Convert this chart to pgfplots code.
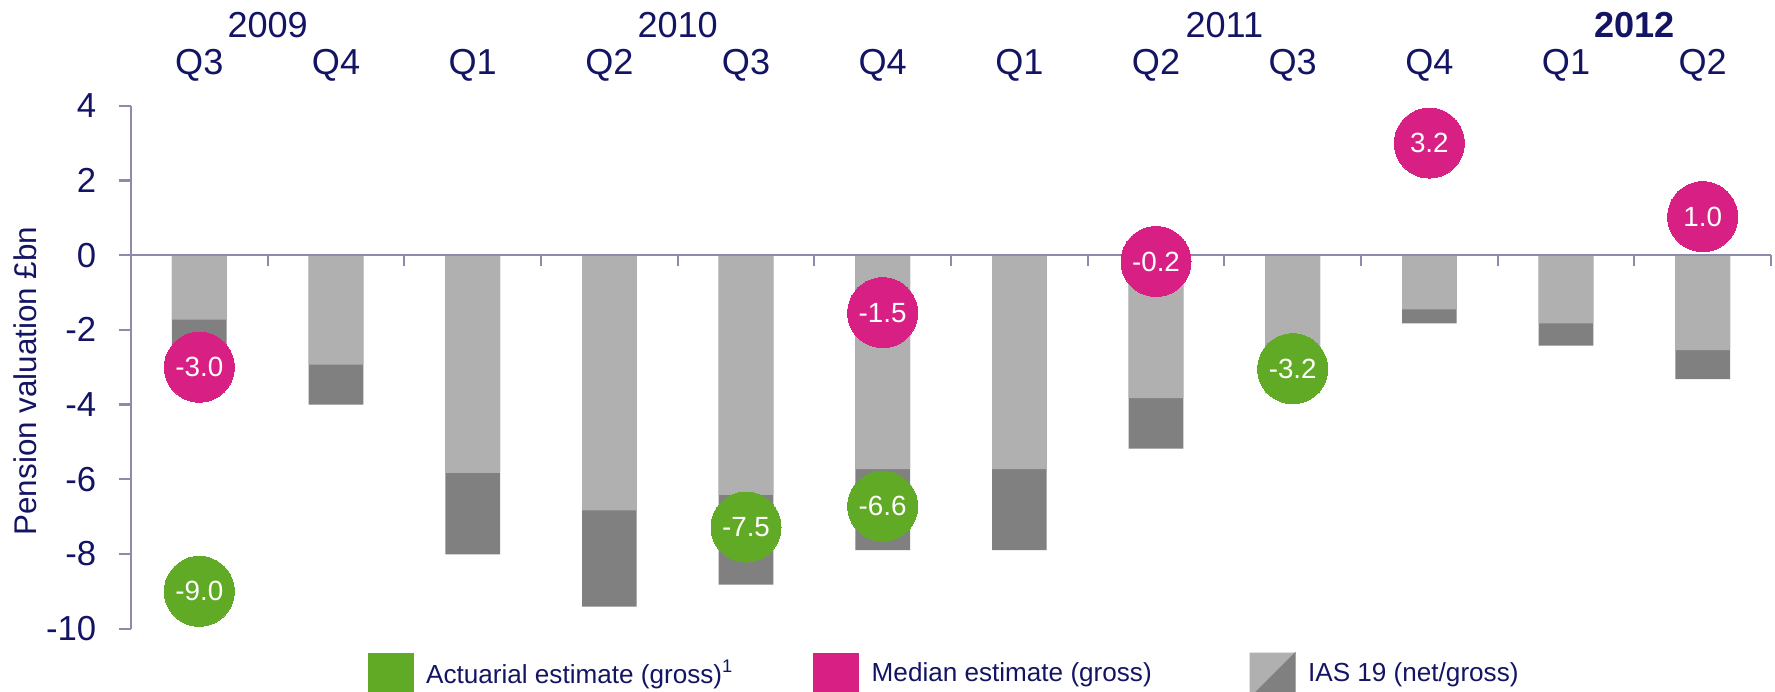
\documentclass[border=0pt]{standalone}
\usepackage{pgfplots}
\pgfplotsset{compat=1.18}
\usepackage{fontspec}
\setmainfont{Liberation Sans}
\definecolor{navy}{RGB}{20,20,100}
\definecolor{axiscol}{RGB}{140,140,170}
\definecolor{lgray}{RGB}{176,176,176}
\definecolor{dgray}{RGB}{128,128,128}
\definecolor{cgreen}{RGB}{96,170,37}
\definecolor{cmag}{RGB}{216,32,132}

\pgfplotstableread{
x light total
0 -1.73 -2.50
1 -2.93 -4.00
2 -5.83 -8.01
3 -6.83 -9.41
4 -6.42 -8.82
5 -5.73 -7.90
6 -5.73 -7.90
7 -3.83 -5.18
8 -2.60 -3.70
9 -1.45 -1.83
10 -1.83 -2.42
11 -2.54 -3.32
}\ias

\pgfplotstableread{
x y label
0 -9.00 -9.0
4 -7.28 -7.5
5 -6.72 -6.6
8 -3.04 -3.2
}\actuarial

\pgfplotstableread{
x y label
0 -3.00 -3.0
5 -1.54 -1.5
7 -0.17 -0.2
9 3.00 3.2
11 1.03 1.0
}\median

\begin{document}
\begin{tikzpicture}
\begin{axis}[
  scale only axis,
  width=590.4pt, height=188.28pt,
  xmin=-0.5, xmax=11.5, ymin=-10, ymax=4,
  clip=false,
  axis x line*=top,
  axis y line*=left,
  x axis line style={draw=none},
  y axis line style={axiscol, line width=0.8pt},
  xtick={0,...,11},
  xticklabels={Q3,Q4,Q1,Q2,Q3,Q4,Q1,Q2,Q3,Q4,Q1,Q2},
  xtick style={draw=none},
  xticklabel style={font=\fontsize{13}{15}\selectfont, text=navy, yshift=1pt},
  extra x ticks={0.5,3.5,7.5,10.5},
  extra x tick labels={2009,2010,2011,\textbf{2012}},
  extra x tick style={xticklabel style={yshift=15.6pt}, xtick style={draw=none}},
  ytick={-10,-8,...,4},
  yticklabels={-10,-8,-6,-4,-2,0,2,4},
  ytick style={axiscol, line width=0.8pt},
  tick align=outside,
  major tick length=4.3pt,
  yticklabel style={font=\fontsize{12.5}{14}\selectfont, text=navy, anchor=east, inner sep=0pt, xshift=-8pt},
  ylabel={Pension valuation £bn},
  every axis y label/.style={at={([xshift=-38.2pt]axis description cs:0,0.4736)}, rotate=90, anchor=center, font=\fontsize{11.3}{13}\selectfont, text=navy},
  legend columns=3,
  legend cell align=left,
  legend style={at={(rel axis cs:0.1439,0)}, anchor=north west, yshift=-8.4pt, draw=none, fill=none, inner sep=0pt, font=\fontsize{9.4}{11}\selectfont, text=navy, nodes={inner sep=0pt}, /tikz/every odd column/.append style={column sep=4.5pt}},
]
\coordinate (bl) at (rel axis cs:0,0);
\coordinate (tr) at (rel axis cs:1,1);

\addlegendimage{legend image code/.code={\fill[cgreen] (0pt,-8.1pt) rectangle (16.2pt,8.1pt);}}
\addlegendentry{\raisebox{1.2pt}{\makebox[139.3pt][l]{Actuarial estimate (gross)\textsuperscript{1}}}}
\addlegendimage{legend image code/.code={\fill[cmag] (0pt,-8.1pt) rectangle (16.2pt,8.1pt);}}
\addlegendentry{\raisebox{1.2pt}{\makebox[136pt][l]{Median estimate (gross)}}}
\addlegendimage{legend image code/.code={\fill[lgray] (0pt,-8.1pt) -- (0pt,8.1pt) -- (16.2pt,8.1pt) -- cycle; \fill[dgray] (0pt,-8.1pt) -- (16.2pt,8.1pt) -- (16.2pt,-8.1pt) -- cycle;}}
\addlegendentry{\raisebox{1.2pt}{IAS 19 (net/gross)}}

\addplot[ybar, bar width=0.4, bar shift=0pt, fill=dgray, draw=none, forget plot] table[x=x, y=total] {\ias};
\addplot[ybar, bar width=0.4, bar shift=0pt, fill=lgray, draw=none, forget plot] table[x=x, y=light] {\ias};

\addplot[axiscol, line width=0.8pt, forget plot] coordinates {(-0.5,0) (11.5,0)};
\pgfplotsinvokeforeach{-0.5,0.5,...,11.5}{\draw[axiscol, line width=0.8pt] (axis cs:#1,0) -- ++(0pt,-3.8pt);}

\addplot[color=cgreen, only marks, mark=*, mark size=12.6pt, mark options={fill=cgreen, draw=cgreen, line width=0pt}, nodes near coords, point meta=explicit symbolic, every node near coord/.append style={anchor=center, text=white, font=\fontsize{10}{12}\selectfont}, forget plot] table[x=x, y=y, meta=label] {\actuarial};
\addplot[color=cmag, only marks, mark=*, mark size=12.6pt, mark options={fill=cmag, draw=cmag, line width=0pt}, nodes near coords, point meta=explicit symbolic, every node near coord/.append style={anchor=center, text=white, font=\fontsize{10}{12}\selectfont}, forget plot] table[x=x, y=y, meta=label] {\median};
\end{axis}
\pgfresetboundingbox
\path[use as bounding box] ([shift={(-47.16pt,-22.43pt)}]bl) rectangle ([shift={(1.44pt,38.05pt)}]tr);
\end{tikzpicture}
\end{document}
